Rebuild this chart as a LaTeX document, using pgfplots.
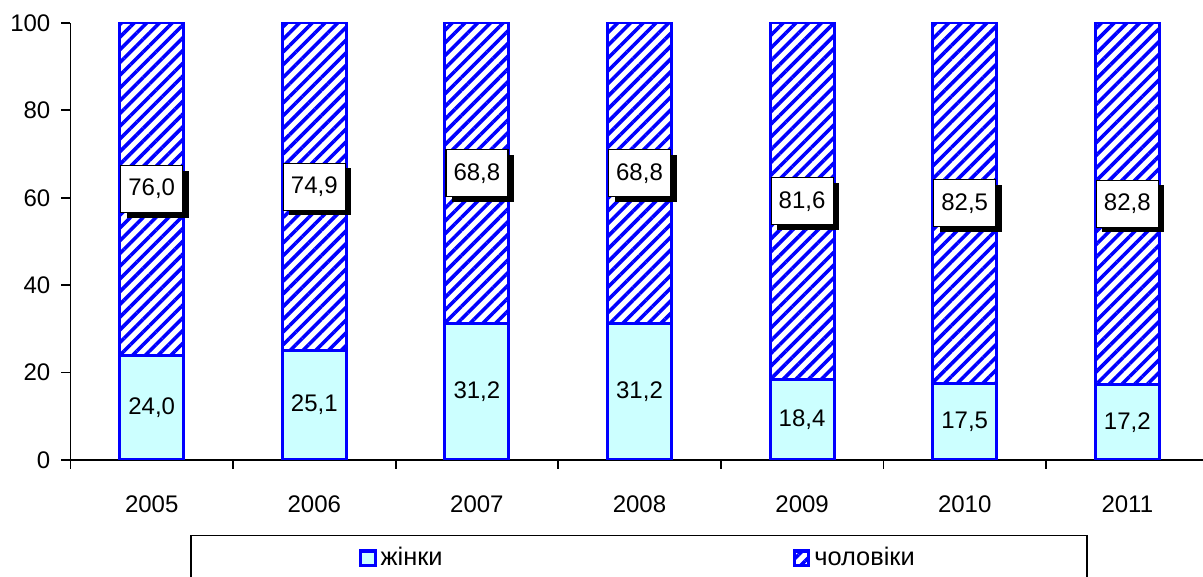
\documentclass[border=0pt]{standalone}
\usepackage{fontspec}
\setmainfont{Liberation Sans}
\usepackage{pgfplots}
\pgfplotsset{compat=1.18}
\usepackage{pgfplotstable}
\usetikzlibrary{patterns.meta,shadows}

\definecolor{barblue}{RGB}{0,0,255}
\definecolor{womenfill}{RGB}{204,255,255}

\pgfplotstableread{
x w m
0 24.0 76.0
1 25.1 74.9
2 31.2 68.8
3 31.2 68.8
4 18.4 81.6
5 17.5 82.5
6 17.2 82.8
}\datatable

\pgfplotsset{
  commonaxis/.style={
    scale only axis,
    width=569.1pt, height=218.5pt,
    at={(35.2pt,58.5pt)}, anchor=south west,
    xmin=-0.5, xmax=6.5, ymin=0, ymax=100,
  },
  myleg/.style={legend image code/.code={\draw[##1, line width=1.6pt] (0pt,-3.6pt) rectangle (7.2pt,3.6pt);}},
  /pgf/number format/assume math mode=true,
}

\begin{document}
\begin{tikzpicture}
\useasboundingbox (0,0) rectangle (601.5pt,288.5pt);
\begin{axis}[
  commonaxis,
  ybar stacked, bar width=32pt,
  axis x line=bottom, axis y line=left,
  axis line style={-, line width=0.9pt, black},
  xtick={-0.5,0.5,...,6.5},
  xticklabels={2005,2006,2007,2008,2009,2010,2011},
  x tick label as interval,
  ytick={0,20,...,100},
  tick align=outside,
  major tick length=4.5pt,
  tick style={black, line width=0.9pt},
  ticklabel style={font=\fontsize{12}{14}\selectfont},
  xticklabel style={yshift=-10pt},
  yticklabel style={xshift=-2pt},
  legend columns=2,
  legend style={at={(0.4995,-0.171)}, anchor=north, draw=black, line width=0.75pt,
    inner xsep=84pt, inner ysep=4pt, font=\fontsize{12.7}{14}\selectfont,
    /tikz/every even column/.append style={column sep=173pt}},
]
\addplot[draw=barblue, line width=1.5pt, fill=womenfill, myleg]
  table[x=x, y=w] {\datatable};
\addlegendentry{жінки}
\addplot[draw=barblue, line width=1.5pt,
  pattern={Lines[angle=45, distance=4.5pt, line width=1.8pt]}, pattern color=barblue, myleg]
  table[x=x, y=m] {\datatable};
\addlegendentry{чоловіки}
\end{axis}

\begin{axis}[
  commonaxis,
  hide axis,
  nodes near coords={\pgfmathprintnumber[fixed, fixed zerofill, precision=1, use comma]{\pgfplotspointmeta}},
]
\addplot[draw=none, mark=none, point meta=\thisrow{w},
  every node near coord/.style={anchor=center, font=\fontsize{12}{14}\selectfont, text=black}]
  table[x=x, y expr=\thisrow{w}/2] {\datatable};
\addplot[draw=none, mark=none, point meta=\thisrow{m},
  every node near coord/.style={anchor=center, font=\fontsize{12}{14}\selectfont, text=black,
    fill=white, draw=black, line width=0.6pt, minimum width=31pt, minimum height=23.5pt, inner sep=0pt,
    drop shadow={shadow xshift=3pt, shadow yshift=-2.5pt, fill=black, opacity=1}}]
  table[x=x, y expr=\thisrow{w}+\thisrow{m}/2] {\datatable};
\end{axis}
\end{tikzpicture}
\end{document}
